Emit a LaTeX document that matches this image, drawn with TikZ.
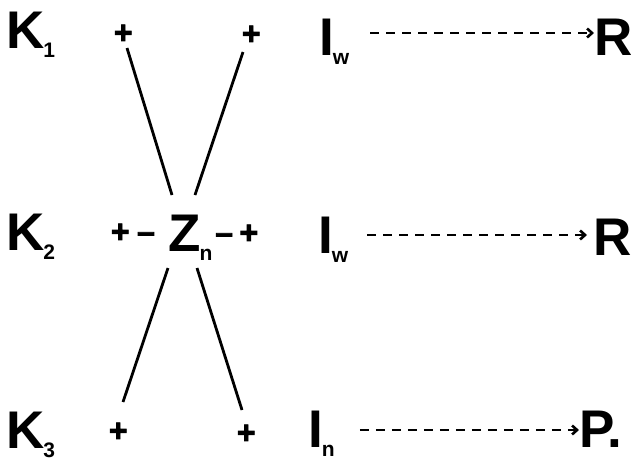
\documentclass[tikz,border=0pt]{standalone}
\usepackage{fontspec}
\setmainfont{Liberation Sans}
\newfontfamily\signfont[BoldFeatures={FakeBold=2.5}]{Liberation Sans}
\usetikzlibrary{arrows.meta}
\newcommand{\mysub}[1]{\kern-1pt\raisebox{-9pt}{\fontsize{21}{21}\selectfont #1}}
\begin{document}
\begin{tikzpicture}[x=1pt,y=-1pt,
  big/.style={inner sep=0pt, anchor=base west, font=\fontsize{53}{53}\selectfont\bfseries},
  sign/.style={inner sep=0pt, anchor=base west, font=\signfont\fontsize{32}{32}\selectfont\bfseries},
  link/.style={line width=2.8pt},
  flow/.style={line width=2.6pt, dash pattern=on 9pt off 7pt,
    -{Straight Barb[length=5pt,width=9pt]}}
]
\useasboundingbox (0,0) rectangle (631,461);
% left column
\node[big] (k1) at (6,48) {K\mysub{1}};
\node[big] (k2) at (6,250) {K\mysub{2}};
\node[big] (k3) at (6,448) {K\mysub{3}};
% signs
\node[sign] (p1) at (113.7,43.5) {+};
\node[sign] (p2) at (241.7,44.5) {+};
\node[sign] (ml) at (110.7,242.5) {+\hspace{7.5pt}–};
\node[sign] (mr) at (215,243.5) {–\hspace{6.5pt}+};
\node[sign] (p3) at (108.7,441.5) {+};
\node[sign] (p4) at (236.7,443.5) {+};
% centre
\node[big] (z) at (168,251) {Z\mysub{n}};
% right column
\node[big] (i1) at (319,55) {I\mysub{w}};
\node[big] (i2) at (318,253) {I\mysub{w}};
\node[big] (i3) at (308,447) {I\mysub{n}};
\node[big] (r1) at (594,55) {R};
\node[big] (r2) at (593,255) {R};
\node[big] (pp) at (579,447) {P.};
% line ends
\coordinate (tl1) at (127,48);  \coordinate (tl2) at (172,195);
\coordinate (tr1) at (243,52);  \coordinate (tr2) at (195,195);
\coordinate (bl1) at (168,268); \coordinate (bl2) at (123,402);
\coordinate (br1) at (197,268); \coordinate (br2) at (242,410);
\draw[link] (tl1) -- (tl2);
\draw[link] (tr1) -- (tr2);
\draw[link] (bl1) -- (bl2);
\draw[link] (br1) -- (br2);
% arrow rows
\coordinate (y1) at (0,33);
\coordinate (y2) at (0,235);
\coordinate (y3) at (0,430);
\draw[flow, shorten <=21pt, shorten >=0pt] (i1.east |- y1) -- (r1.west |- y1);
\draw[flow, shorten <=19pt, shorten >=6pt] (i2.east |- y2) -- (r2.west |- y2);
\draw[flow, shorten <=25pt, shorten >=0pt] (i3.east |- y3) -- (pp.west |- y3);
\end{tikzpicture}
\end{document}
